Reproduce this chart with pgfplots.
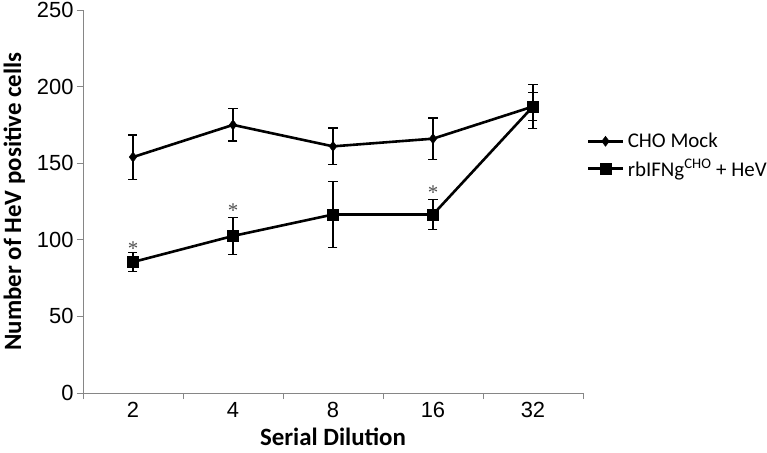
\documentclass[border=0pt]{standalone}
\usepackage{pgfplots}
\pgfplotsset{compat=1.18}
\usepackage{fontspec}
\setmainfont{Carlito}
\newfontfamily\arialf{Liberation Sans}
\newfontfamily\timesf{Liberation Serif}
\definecolor{axgray}{RGB}{134,134,134}
\definecolor{stargray}{RGB}{80,80,80}
\begin{document}
\begin{tikzpicture}
\begin{axis}[
  name=ax, at={(0,0)}, anchor=south west,
  scale only axis, width=500bp, height=383bp,
  xmin=-0.5, xmax=4.5, ymin=0, ymax=250,
  axis x line=bottom, axis y line=left,
  axis line style={-, draw=axgray, line width=0.9bp},
  xtick={-0.5,0.5,1.5,2.5,3.5,4.5},
  x tick label as interval,
  xticklabels={2,4,8,16,32},
  ytick={0,50,100,150,200,250},
  tick style={draw=axgray, line width=0.9bp},
  tick align=outside, major tick length=6bp,
  /pgf/number format/assume math mode=true,
  tick label style={font=\arialf\fontsize{22}{22}\selectfont},
  xlabel={\bfseries Serial Dilution},
  ylabel={\bfseries Number of HeV positive cells},
  label style={font=\fontsize{25}{25}\selectfont},
  xlabel style={yshift=-3bp},
  ylabel style={yshift=5bp},
  clip=false,
  legend style={at={(1.008,0.62)}, anchor=west, draw=none, fill=none,
    font=\fontsize{21}{21}\selectfont, row sep=6bp, inner sep=0pt,
    nodes={inner xsep=4bp}},
  legend cell align=left,
  legend image code/.code={\draw[mark repeat=2,mark phase=2] plot coordinates {(0cm,0cm)(0.6cm,0cm)(1.2cm,0cm)};},
]
\addplot[black, line width=2.6bp, mark=diamond*, mark size=5bp, mark options={solid, line width=0.5bp},
  error bars/.cd, y dir=both, y explicit,
  error bar style={line width=1.3bp, black},
  error mark options={rotate=90, mark size=4.5bp, line width=1.3bp, black}]
  coordinates {
  (0,154) +- (0,14.5)
  (1,175) +- (0,10.5)
  (2,161) +- (0,12)
  (3,166) +- (0,13.5)
  (4,187) +- (0,14.5)
};
\addlegendentry{CHO Mock}
\addplot[black, line width=2.6bp, mark=square*, mark size=5.5bp, mark options={solid, line width=0.5bp},
  error bars/.cd, y dir=both, y explicit,
  error bar style={line width=1.3bp, black},
  error mark options={rotate=90, mark size=4.5bp, line width=1.3bp, black}]
  coordinates {
  (0,85.5) +- (0,6)
  (1,102.5) +- (0,12)
  (2,116.5) +- (0,21.5)
  (3,116.5) +- (0,10)
  (4,187) +- (0,9)
};
\addlegendentry{rbIFNg\textsuperscript{CHO} + HeV}
\node[text=stargray, font=\timesf\fontsize{21}{21}\selectfont, inner sep=0pt] at (axis cs:0,94.5) {*};
\node[text=stargray, font=\timesf\fontsize{21}{21}\selectfont, inner sep=0pt] at (axis cs:1,119) {*};
\node[text=stargray, font=\timesf\fontsize{21}{21}\selectfont, inner sep=0pt] at (axis cs:3,130.5) {*};
\end{axis}
\pgfresetboundingbox
\useasboundingbox (-83bp,-60bp) rectangle (684bp,393bp);
\end{tikzpicture}
\end{document}
